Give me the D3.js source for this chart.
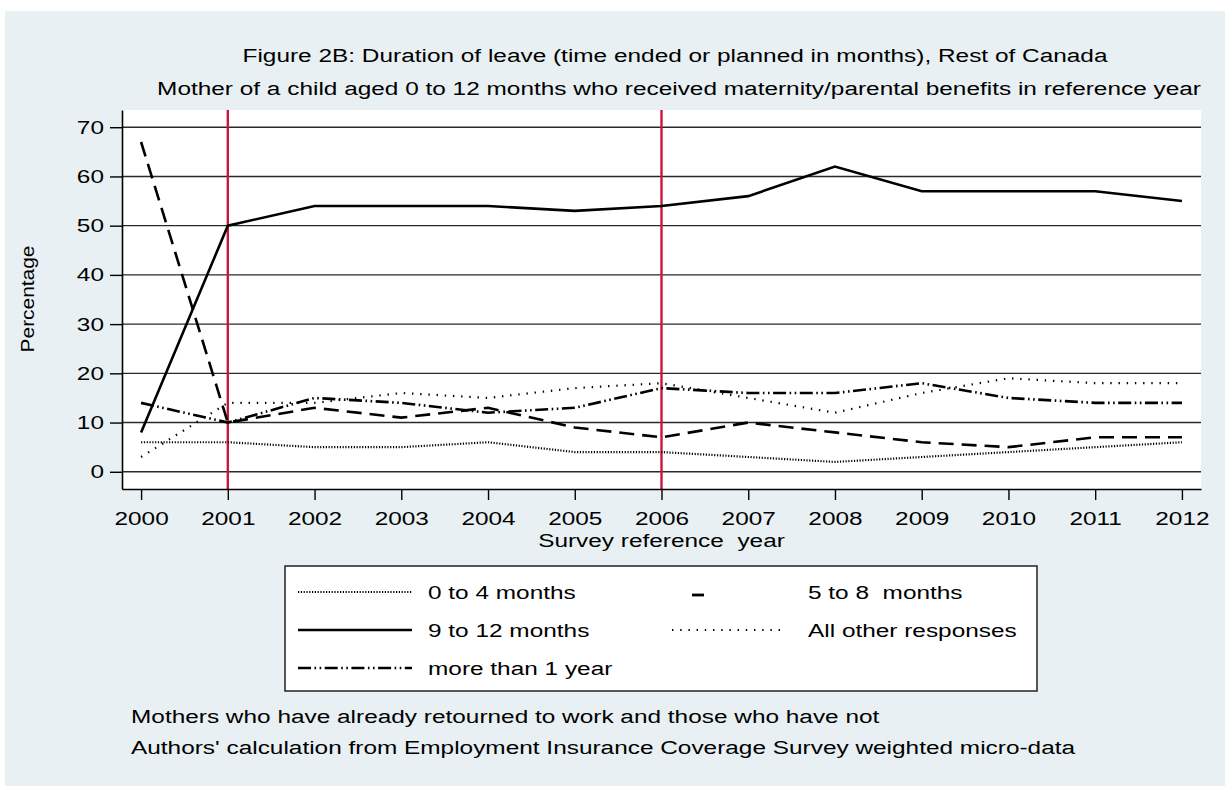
<!DOCTYPE html>
<html><head><meta charset="utf-8">
<script src="https://cdn.jsdelivr.net/npm/d3@7/dist/d3.min.js"></script>
<style>
body{margin:0;background:#fff}
svg{display:block}
text{font-family:"Liberation Sans",Arial,Helvetica,sans-serif;fill:#000;white-space:pre}
</style>
</head><body>
<svg id="c" width="1225" height="786"></svg>
<script>
// ---------- data ----------
const years = [2000,2001,2002,2003,2004,2005,2006,2007,2008,2009,2010,2011,2012];
const s0to4  = [6,6,5,5,6,4,4,3,2,3,4,5,6];
const s5to8  = [67,10,13,11,13,9,7,10,8,6,5,7,7];
const s9to12 = [8,50,54,54,54,53,54,56,62,57,57,57,55];
const sOther = [3,14,14,16,15,17,18,15,12,16,19,18,18];
const sMore1 = [14,10,15,14,12,13,17,16,16,18,15,14,14];
const yTicks = [0,10,20,30,40,50,60,70];
const refYears = [2001,2006];
const seriesNames = ["0 to 4 months","5 to 8  months","9 to 12 months","All other responses","more than 1 year"];
const titleLines = ["Figure 2B: Duration of leave (time ended or planned in months), Rest of Canada",
                    "Mother of a child aged 0 to 12 months who received maternity/parental benefits in reference year"];
const xTitle = "Survey reference  year";
const yTitle = "Percentage";
const notes = ["Mothers who have already retourned to work and those who have not",
               "Authors' calculation from Employment Insurance Coverage Survey weighted micro-data"];

// ---------- setup ----------
const W = 1225, H = 786, FS = 19;
const svg = d3.select("#c");
svg.append("rect").attr("x",5).attr("y",11).attr("width",W-5).attr("height",H-11).attr("fill","#e8f0f3");

// horizontal stretch factor for text (reference text is wider than regular Arial)
const probe = svg.append("text").style("font-size",FS+"px").text(titleLines[1]);
const SX = 1044 / probe.node().getComputedTextLength();
probe.remove();

function txt(g, x, y, s, anchor){
  return g.append("text")
    .attr("transform",`translate(${x},${y}) scale(${SX},1)`)
    .attr("text-anchor",anchor)
    .style("font-size",FS+"px")
    .text(s);
}

const x = d3.scaleLinear().domain([1999.78,2012.22]).range([122,1201]);
const y = d3.scaleLinear().domain([-3.5,73.5]).range([489,110]);
const [x0,x1] = x.range(), [y0,y1] = y.range();

// plot region
svg.append("rect").attr("x",x0).attr("y",y1).attr("width",x1-x0).attr("height",y0-y1).attr("fill","#fff");

// gridlines
svg.append("g").selectAll("line").data(yTicks).join("line")
  .attr("x1",x0).attr("x2",x1).attr("y1",d=>y(d)).attr("y2",d=>y(d))
  .attr("stroke","#2a2a2a").attr("stroke-width",1.4);

// reference lines
svg.append("g").selectAll("line").data(refYears).join("line")
  .attr("x1",d=>x(d)).attr("x2",d=>x(d)).attr("y1",y1).attr("y2",y0)
  .attr("stroke","#c8163e").attr("stroke-width",2.4);

// axes
const yAx = svg.append("g").attr("transform",`translate(${x0},0)`)
  .call(d3.axisLeft(y).tickValues(yTicks).tickSize(12).tickSizeOuter(0).tickPadding(6));
const xAx = svg.append("g").attr("transform",`translate(0,${y0})`)
  .call(d3.axisBottom(x).tickValues(years).tickFormat(d3.format("d")).tickSize(11).tickSizeOuter(0).tickPadding(11.5));
[yAx,xAx].forEach(a=>{
  a.select(".domain").attr("stroke","#000").attr("stroke-width",1.6);
  a.selectAll(".tick line").attr("stroke","#000").attr("stroke-width",1.4);
  a.selectAll("text").attr("fill","#000").style("font-size",FS+"px")
    .style("font-family",'"Liberation Sans",Arial,sans-serif');
});
yAx.selectAll(".tick text").each(function(){
  const t=d3.select(this); const xx=+t.attr("x");
  t.attr("x",0).attr("transform",`translate(${xx},0) scale(${SX},1)`);
});
xAx.selectAll(".tick text").attr("transform",`scale(${SX},1)`);

// series
const line = d3.line().x((d,i)=>x(years[i])).y(d=>y(d));
const styles = [
  {data:s0to4,  dash:"1.2,1.6",          w:2.2},
  {data:s5to8,  dash:"15,8",             w:2.6},
  {data:s9to12, dash:null,               w:2.6},
  {data:sOther, dash:"1.4,6.8",          w:2.2},
  {data:sMore1, dash:"13,3.5,1.6,3.5,1.6,3.5", w:2.6}
];
const gL = svg.append("g").attr("fill","none");
styles.forEach(s=>{
  gL.append("path").datum(s.data).attr("d",line)
    .attr("stroke","#000").attr("stroke-width",s.w)
    .attr("stroke-dasharray",s.dash).attr("stroke-linejoin","miter");
});

// titles
txt(svg, 675, 62, titleLines[0], "middle");
txt(svg, 679, 95, titleLines[1], "middle");
txt(svg, (x0+x1)/2, 547, xTitle, "middle");
svg.append("text")
  .attr("transform","translate(34,299) rotate(-90) scale(1.1,1)")
  .attr("text-anchor","middle").style("font-size",FS+"px").text(yTitle);

// legend
const lg = svg.append("g");
lg.append("rect").attr("x",285).attr("y",566).attr("width",752).attr("height",125)
  .attr("fill","#fff").attr("stroke","#222").attr("stroke-width",1.5);
const rows = [592,630,668];
const keys = [
  {x1:298,x2:412,y:rows[0],st:styles[0],tx:428,ty:rows[0]},
  {x1:692,x2:704,y:rows[0]+3,st:{dash:null,w:2.8},tx:808,ty:rows[0]},
  {x1:298,x2:412,y:rows[1],st:styles[2],tx:428,ty:rows[1]},
  {x1:672,x2:786,y:rows[1],st:styles[3],tx:808,ty:rows[1]},
  {x1:298,x2:412,y:rows[2],st:styles[4],tx:428,ty:rows[2]}
];
keys.forEach((k,i)=>{
  lg.append("line").attr("x1",k.x1).attr("x2",k.x2).attr("y1",k.y).attr("y2",k.y)
    .attr("stroke","#000").attr("stroke-width",k.st.w).attr("stroke-dasharray",k.st.dash);
  txt(lg, k.tx, k.ty+7, seriesNames[i], "start");
});

// notes
txt(svg, 131, 723, notes[0], "start");
txt(svg, 131, 754, notes[1], "start");
</script>
</body></html>
